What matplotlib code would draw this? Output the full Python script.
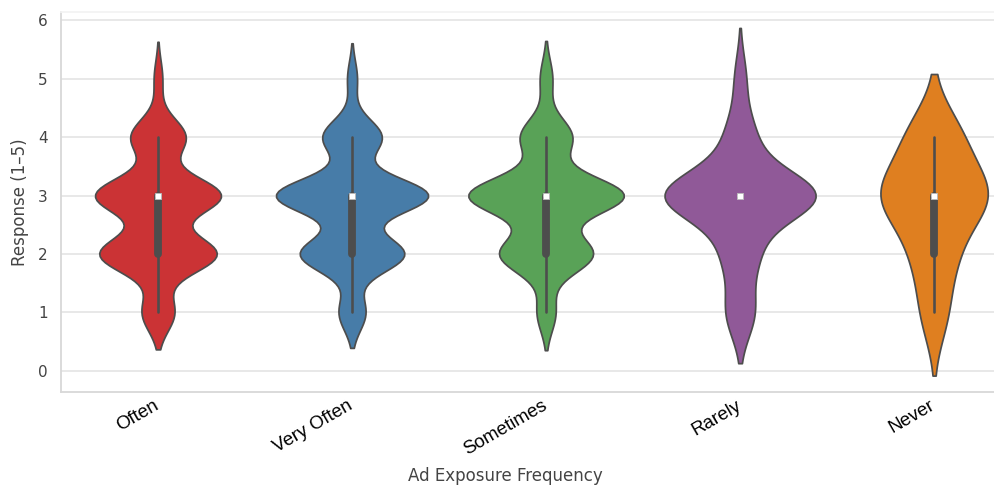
import numpy as np
import pandas as pd
import matplotlib
matplotlib.use('Agg')
import matplotlib.pyplot as plt
import matplotlib.transforms as mtransforms
from matplotlib.collections import PolyCollection
import seaborn as sns

# response counts per Likert level (1..5) for each exposure group
levels = [1, 2, 3, 4, 5]
groups = ["Often", "Very Often", "Sometimes", "Rarely", "Never"]
counts_often = [23, 83, 89, 39, 6]
counts_very_often = [19, 74, 108, 42, 7]
counts_sometimes = [9, 45, 75, 25, 6]
counts_rarely = [5, 6, 27, 5, 2]
counts_never = [2, 3, 8, 4, 0]

group_counts = [counts_often, counts_very_often, counts_sometimes, counts_rarely, counts_never]

rows = []
for g, cnts in zip(groups, group_counts):
    for lvl, c in zip(levels, cnts):
        rows += [(g, lvl)] * c
df = pd.DataFrame(rows, columns=["exposure", "response"])

sns.set_theme(style="whitegrid")
plt.rcParams['font.family'] = ['DejaVu Sans']

fig = plt.figure(figsize=(9.95, 4.86), dpi=100)
ax = fig.add_axes([0.0613, 0.1934, 0.975, 0.7819])

# single-colour pass keeps one shared area normalisation across violins
sns.violinplot(data=df, x="exposure", y="response", order=groups, color="gray", ax=ax)

colors = sns.color_palette("Set1", len(groups), desat=0.75)
bodies = [c for c in ax.collections if isinstance(c, PolyCollection)]
for body, col in zip(bodies, colors):
    body.set_facecolor(col)

# median markers
medians = df.groupby("exposure")["response"].median().reindex(groups)
ax.scatter(range(len(groups)), medians.values, marker='s', s=16, facecolor='white',
           edgecolor='#bbbbbb', linewidth=0.6, zorder=5)

ax.set_xlim(-0.5, 4.5)
ax.set_ylim(-0.36, 6.14)
ax.set_yticks(range(0, 7))
ax.grid(True, axis='y', color='#e6e6e6', lw=1.3)
ax.grid(False, axis='x')

ax.spines['right'].set_visible(False)
ax.spines['top'].set_color('#f3f3f3')
for side in ['left', 'bottom']:
    ax.spines[side].set_color('#d8d8d8')
    ax.spines[side].set_linewidth(1.3)

ax.tick_params(axis='y', labelsize=11, labelcolor='#444444', pad=3.5)
ax.tick_params(axis='x', pad=2)
ax.set_xticks(range(len(groups)))
ax.set_xticklabels(groups, rotation=30, ha='right',
                   fontsize=13.5, color='black', family='Liberation Sans')
shift = mtransforms.ScaledTranslation(0.04, 0.06, fig.dpi_scale_trans)
for lbl in ax.get_xticklabels():
    lbl.set_transform(lbl.get_transform() + shift)

ax.set_xlabel("Ad Exposure Frequency", fontsize=12, color='#444444')
ax.set_ylabel("Response (1–5)", fontsize=12, color='#444444')
ax.xaxis.set_label_coords(0.458, -0.198)
ax.yaxis.set_label_coords(-0.033, 0.5)

fig.savefig("out.png", dpi=100)
